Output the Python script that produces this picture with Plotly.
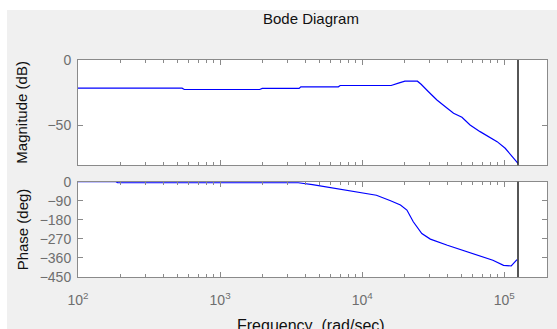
import numpy as np
import plotly.graph_objects as go

# ---- data ----
mag_freq = [100, 540, 560, 1900, 1980, 3600, 3700, 6800, 7000, 16000, 18000, 20000,
            24500, 26000, 29300, 33600, 38500, 44000, 50400, 57500, 67600, 77600,
            89100, 101600, 113200, 120000, 125000]
mag_db = [-21.7, -21.7, -22.7, -22.7, -21.9, -21.9, -20.6, -20.6, -19.6, -19.6, -17.8, -16.3,
          -16.3, -18.7, -24.4, -30.8, -35.9, -41.0, -44.1, -50.0, -55.1, -59.0,
          -62.8, -67.9, -74.4, -77.0, -79.5]

ph_freq = [100, 185, 190, 3550, 4470, 5960, 7940, 10000, 12600, 15850, 18600, 20650,
           22900, 26300, 30200, 39800, 51300, 67600, 83200, 98900, 112000, 123000]
ph_deg = [0, 0, -5, -5, -14, -27, -40, -50, -64, -90, -110, -134,
          -189, -245, -271, -300, -324, -350, -371, -395, -398, -368]

marker_freq = 125000
x_ticks = [100, 1000, 10000, 100000]
x_ticktext = ["10<sup>2</sup>", "10<sup>3</sup>", "10<sup>4</sup>", "10<sup>5</sup>"]
mag_ticks = [-50, 0]
ph_ticks = [0, -90, -180, -270, -360, -450]

title_text = "Bode Diagram"
mag_label = "Magnitude (dB)"
ph_label = "Phase (deg)"
x_label = "Frequency  (rad/sec)"

# ---- styling ----
FONT = "Liberation Sans, Arial, sans-serif"
W, H = 557, 329
L, R, T, B = 78, 10, 60, 52
axis_col = "#8a8a8a"
tick_font = dict(family=FONT, size=14, color="#6e6e6e")

minor_vals = [m * 10 ** e for e in range(2, 6) for m in range(2, 10) if m * 10 ** e <= 2e5]

fig = go.Figure()
fig.add_trace(go.Scatter(x=mag_freq, y=mag_db, mode="lines",
                         line=dict(color="#0000ff", width=1.2), xaxis="x", yaxis="y",
                         showlegend=False))
fig.add_trace(go.Scatter(x=ph_freq, y=ph_deg, mode="lines",
                         line=dict(color="#0000ff", width=1.2), xaxis="x2", yaxis="y2",
                         showlegend=False))

xcommon = dict(type="log", range=[2, np.log10(2e5)], showline=True, linecolor=axis_col,
               linewidth=1, mirror="ticks", ticks="inside", ticklen=5, tickcolor=axis_col,
               tickvals=x_ticks, ticktext=x_ticktext, showgrid=False, zeroline=False,
               minor=dict(ticks="inside", ticklen=3, tickcolor=axis_col, tickvals=minor_vals,
                          showgrid=False),
               tickfont=tick_font)
ycommon = dict(showline=True, linecolor=axis_col, linewidth=1, mirror="ticks",
               ticks="inside", ticklen=5, tickcolor=axis_col, showgrid=False,
               zeroline=False, tickfont=tick_font, ticklabelstandoff=3)

top_dom = [1 - (165.3 - T) / (H - T - B), 1]
bot_dom = [0, 1 - (181.7 - T) / (H - T - B)]

fig.update_layout(
    width=W, height=H,
    margin=dict(l=L, r=R, t=T, b=B),
    paper_bgcolor="#f0f0f0", plot_bgcolor="white",
    xaxis=dict(xcommon, anchor="y", domain=[0, 1], showticklabels=False, matches="x2"),
    yaxis=dict(ycommon, anchor="x", domain=top_dom, range=[-81, 0], tickvals=mag_ticks),
    xaxis2=dict(xcommon, anchor="y2", domain=[0, 1], ticklabelstandoff=10),
    yaxis2=dict(ycommon, anchor="x2", domain=bot_dom, range=[-450, 0], tickvals=ph_ticks),
    showlegend=False,
)

pw = W - L - R
ph = H - T - B
def px_x(p):
    return (p - L) / pw
def px_y(p):
    return 1 - (p - T) / ph

# white outer strips (top and left)
fig.add_shape(type="rect", xref="paper", yref="paper", x0=px_x(0), x1=px_x(W + 5),
              y0=px_y(10), y1=px_y(-5), fillcolor="white", line=dict(width=0), layer="above")
fig.add_shape(type="rect", xref="paper", yref="paper", x0=px_x(-5), x1=px_x(7),
              y0=px_y(H + 5), y1=px_y(-5), fillcolor="white", line=dict(width=0), layer="above")

# black vertical marker lines
for xa, ya in (("x", "y domain"), ("x2", "y2 domain")):
    fig.add_shape(type="line", xref=xa, yref=ya, x0=marker_freq, x1=marker_freq, y0=0, y1=1,
                  line=dict(color="#1e1e1e", width=1.5))

lab_font = dict(family=FONT, size=15, color="#111111")
fig.add_annotation(text=title_text, xref="paper", yref="paper", x=px_x(310.5), y=px_y(18.5),
                   xanchor="center", yanchor="middle", showarrow=False, font=lab_font)
fig.add_annotation(text=mag_label, xref="paper", yref="y domain", x=px_x(22), y=0.5,
                   xanchor="center", yanchor="middle", textangle=-90, showarrow=False,
                   font=lab_font)
fig.add_annotation(text=ph_label, xref="paper", yref="y2 domain", x=px_x(22), y=0.5,
                   xanchor="center", yanchor="middle", textangle=-90, showarrow=False,
                   font=lab_font)
fig.add_annotation(text=x_label, xref="paper", yref="paper", x=px_x(311), y=px_y(315),
                   xanchor="center", yanchor="top", showarrow=False,
                   font=dict(family=FONT, size=16, color="#111111"))

fig.write_html("out.html")
